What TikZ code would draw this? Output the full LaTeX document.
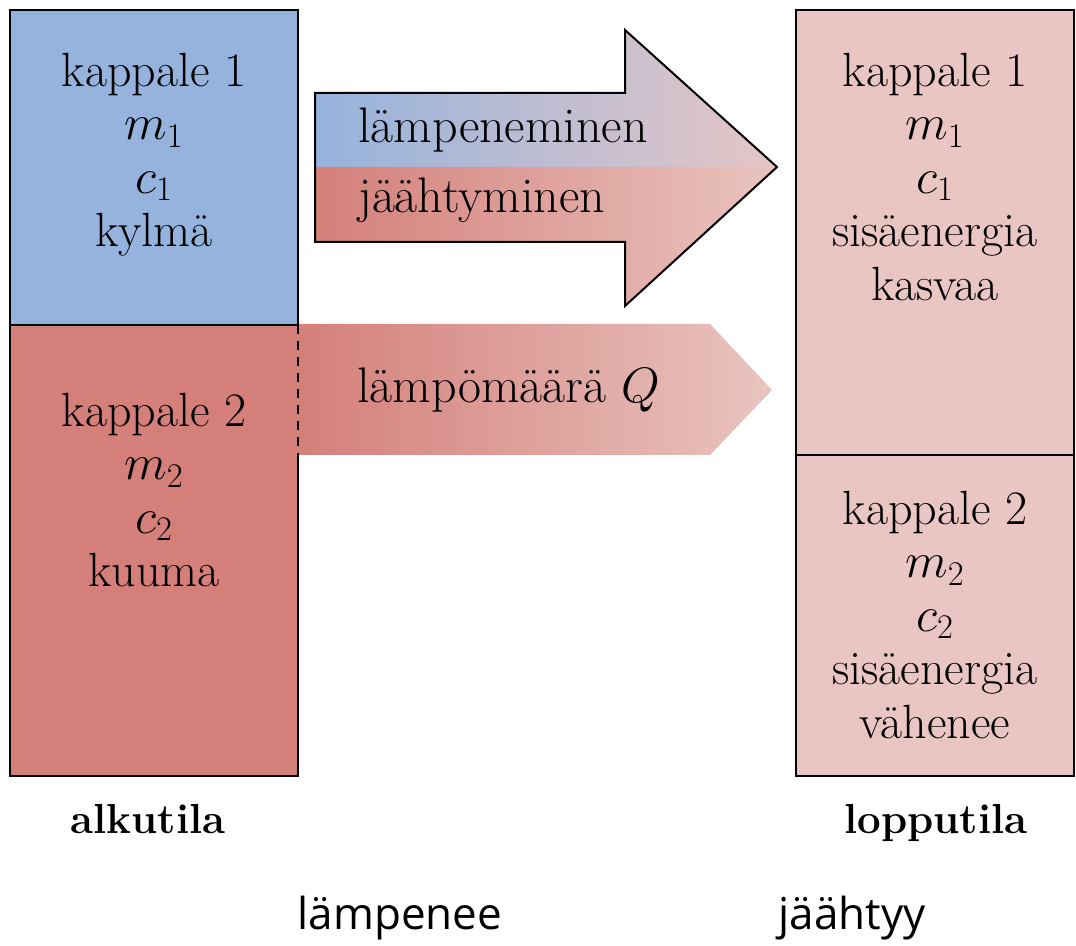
\documentclass[tikz,border=0pt]{standalone}
\usepackage{fontspec}
\newfontfamily\alasans{Open Sans}

\definecolor{kylma}{HTML}{95B3DD}
\definecolor{kuuma}{HTML}{D47F7A}
\definecolor{loppuvari}{HTML}{E9C5C3}
\definecolor{nuolikarki}{HTML}{E6C6C6}
\definecolor{nuolipunainen}{HTML}{E9C4BF}

\begin{document}
\begin{tikzpicture}[x=0.5pt, y=-0.5pt, line width=1.2pt,
  kpltxt/.style={font=\fontsize{24}{26.7}\selectfont, align=center, anchor=north, inner sep=0pt},
  nuolitxt/.style={font=\fontsize{25}{28}\selectfont, anchor=base west, inner sep=0pt},
  tilatxt/.style={font=\fontsize{21}{25}\selectfont\bfseries, anchor=base, inner sep=0pt},
  alatxt/.style={font=\fontsize{22}{26}\alasans, inner sep=0pt}]
  \useasboundingbox (0,0) rectangle (1076,946);

  % laatikoiden taustat
  \fill[kylma] (10,10) rectangle (298,325);
  \fill[kuuma] (10,325) rectangle (298,776);
  \fill[loppuvari] (796,10) rectangle (1074,776);

  % lampomaara-nuoli
  \shade[left color=kuuma, right color=nuolipunainen]
    (298,324) -- (710,324) -- (772,390) -- (710,455) -- (298,455) -- cycle;

  % iso nuoli: ylapuoli sininen, alapuoli punainen
  \shade[left color=kylma, right color=nuolikarki]
    (315,93) -- (625,93) -- (625,30) -- (777,167) -- (315,167) -- cycle;
  \shade[left color=kuuma, right color=nuolipunainen]
    (315,167) -- (777,167) -- (625,306) -- (625,242) -- (315,242) -- cycle;
  \draw[line width=1pt, line join=miter]
    (315,93) -- (625,93) -- (625,30) -- (777,167) -- (625,306) -- (625,242) -- (315,242) -- cycle;

  % alkutila
  \draw (298,325) -- (298,10) -- (10,10) -- (10,776) -- (298,776) -- (298,455);
  \draw (10,325) -- (298,325);
  \draw[dash pattern=on 4.5pt off 3.5pt] (298,325) -- (298,455);

  % lopputila
  \draw (796,10) rectangle (1074,776);
  \draw (796,455) -- (1074,455);

  \node[kpltxt] (alku1) at (154,52) {kappale 1\\$m_1$\\$c_1$\\kylmä};
  \node[kpltxt] (alku2) at (154,392) {kappale 2\\$m_2$\\$c_2$\\kuuma};
  \node[kpltxt] (loppu1) at (935,52) {kappale 1\\$m_1$\\$c_1$\\sisäenergia\\kasvaa};
  \node[kpltxt] (loppu2) at (935,490) {kappale 2\\$m_2$\\$c_2$\\sisäenergia\\vähenee};

  \node[nuolitxt] (lampen) at (357,143) {lämpeneminen};
  \node[nuolitxt] (jaahtym) at (357,213) {jäähtyminen};
  \node[nuolitxt] (maara) at (356,403) {lämpömäärä $Q$};

  \node[tilatxt] (alku) at (148,833) {alkutila};
  \node[tilatxt] (loppu) at (936,833) {lopputila};

  \node[alatxt] (lampenee) at (400,918) {lämpenee};
  \node[alatxt] (jaahtyy) at (852,918) {jäähtyy};
\end{tikzpicture}
\end{document}
